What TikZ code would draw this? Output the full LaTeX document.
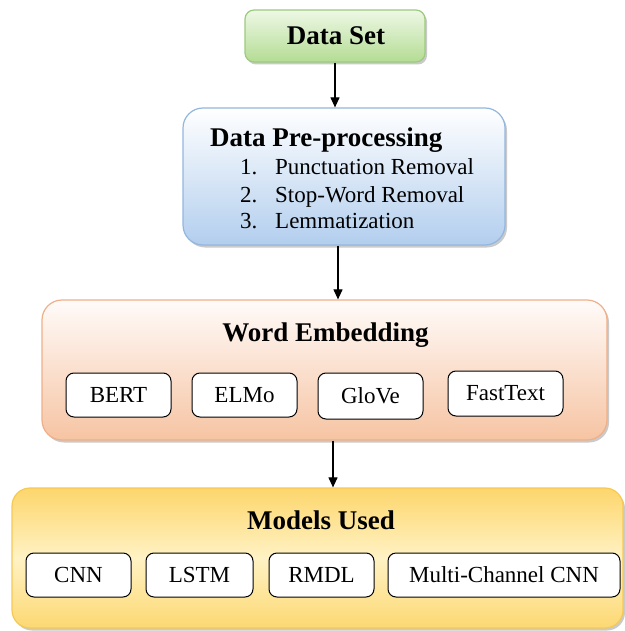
\documentclass[tikz,border=0pt]{standalone}
\usepackage{fontspec}
\setmainfont{Liberation Serif}
\usetikzlibrary{arrows.meta,shadows}
\definecolor{dsTop}{HTML}{EEF8E6}
\definecolor{dsBot}{HTML}{B4DC94}
\definecolor{dsLine}{HTML}{9CCB7E}
\definecolor{ppTop}{HTML}{FFFFFF}
\definecolor{ppBot}{HTML}{B2CEEE}
\definecolor{ppLine}{HTML}{93B6DE}
\definecolor{weTop}{HTML}{FFFBF9}
\definecolor{weBot}{HTML}{F6C4A3}
\definecolor{weLine}{HTML}{EFAF88}
\definecolor{muTop}{HTML}{FDD66C}
\definecolor{muMid}{HTML}{FFF2C4}
\definecolor{muBot}{HTML}{FCD872}
\definecolor{muLine}{HTML}{F6C955}
\tikzset{
  bigbox/.style={draw, line width=1.2pt, drop shadow={shadow xshift=2pt, shadow yshift=-2.5pt, opacity=0.35, fill=black!60}},
  subbox/.style={draw=black, line width=1pt, fill=white, rounded corners=8pt, font=\fontsize{23}{27}\selectfont},
  ttl/.style={font=\bfseries\fontsize{27}{32}\selectfont, inner sep=0pt},
  itm/.style={font=\fontsize{23}{27}\selectfont, inner sep=0pt},
  arr/.style={line width=1.1pt, -{Triangle[length=10pt,width=9pt]}}
}
\begin{document}
\begin{tikzpicture}[x=1pt,y=-1pt]
\useasboundingbox (0,0) rectangle (624,631);

% Data Set
\node[bigbox, draw=dsLine, top color=dsTop, bottom color=dsBot, rounded corners=9pt,
      minimum width=180pt, minimum height=52pt, inner sep=0pt] (ds) at (335,36) {};
\node[ttl, anchor=base] (dst) at (336,45) {Data Set};

% Data Pre-processing
\node[bigbox, draw=ppLine, top color=ppTop, bottom color=ppBot, rounded corners=20pt,
      minimum width=322pt, minimum height=137pt, inner sep=0pt] (pp) at (344,176.5) {};
\node[ttl, anchor=base west] (ppt) at (210,147) {Data Pre-processing};
\node[itm, anchor=base west] (n1) at (240,175) {1.};
\node[itm, anchor=base west] (i1) at (275,175) {Punctuation Removal};
\node[itm, anchor=base west] (n2) at (240,202) {2.};
\node[itm, anchor=base west] (i2) at (275,202) {Stop-Word Removal};
\node[itm, anchor=base west] (n3) at (240,228) {3.};
\node[itm, anchor=base west] (i3) at (275,228) {Lemmatization};

% Word Embedding
\node[bigbox, draw=weLine, top color=weTop, bottom color=weBot, rounded corners=20pt,
      minimum width=565pt, minimum height=140pt, inner sep=0pt] (we) at (324.5,370) {};
\node[ttl, anchor=base] (wet) at (325.5,341) {Word Embedding};
\node[subbox, minimum width=105pt, minimum height=44pt] (bert) at (118.5,395) {BERT};
\node[subbox, minimum width=105pt, minimum height=44pt] (elmo) at (244.5,395) {ELMo};
\node[subbox, minimum width=105pt, minimum height=46pt] (glove) at (370.5,396) {GloVe};
\node[subbox, minimum width=115pt, minimum height=45pt] (ftext) at (505.5,393.5) {FastText};

% Models Used
\node[bigbox, draw=muLine, top color=muTop, bottom color=muBot, middle color=muMid, rounded corners=18pt,
      minimum width=611pt, minimum height=140pt, inner sep=0pt] (mu) at (317.5,558) {};
\node[ttl, anchor=base] (mut) at (321,529) {Models Used};
\node[subbox, minimum width=105pt, minimum height=44pt] (cnn) at (78.5,575) {CNN};
\node[subbox, minimum width=107pt, minimum height=44pt] (lstm) at (199.5,575) {LSTM};
\node[subbox, minimum width=105pt, minimum height=44pt] (rmdl) at (321.5,575) {RMDL};
\node[subbox, minimum width=232pt, minimum height=44pt] (mcc) at (504,575) {Multi-Channel CNN};

% Arrows
\draw[arr] (ds.south) -- (ds.south |- pp.north);
\draw[arr] ([xshift=-6pt]pp.south) -- ([xshift=-6pt]pp.south |- we.north);
\draw[arr] ([xshift=8.5pt]we.south) -- ([xshift=8.5pt]we.south |- mu.north);
\end{tikzpicture}
\end{document}
